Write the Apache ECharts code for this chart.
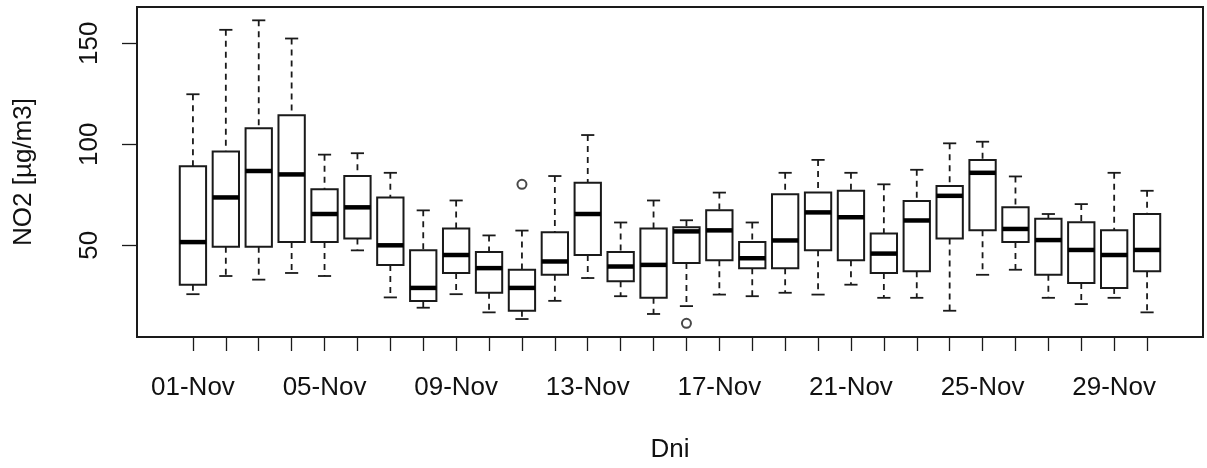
<!DOCTYPE html>
<html>
<head>
<meta charset="utf-8">
<script src="https://cdn.jsdelivr.net/npm/echarts@6.0.0/dist/echarts.min.js"></script>
<style>
  html,body{margin:0;padding:0;background:#fff;}
  #chart{width:1207px;height:468px;}
</style>
</head>
<body>
<div id="chart"></div>
<script>
// daily NO2 box stats
var days = ["01-Nov","02-Nov","03-Nov","04-Nov","05-Nov","06-Nov","07-Nov","08-Nov","09-Nov","10-Nov",
  "11-Nov","12-Nov","13-Nov","14-Nov","15-Nov","16-Nov","17-Nov","18-Nov","19-Nov","20-Nov",
  "21-Nov","22-Nov","23-Nov","24-Nov","25-Nov","26-Nov","27-Nov","28-Nov","29-Nov","30-Nov"];
var whiskerHigh = [124.8,156.7,161.4,152.4,94.9,95.6,85.9,67.3,72.2,54.9,57.3,84.3,104.6,61.3,72.2,62.4,76.1,61.3,85.9,92.3,85.9,80.2,87.4,100.5,101.3,84.1,65.5,70.4,85.9,77.0];
var q3 = [89.2,96.4,108.0,114.4,77.7,84.3,73.7,47.5,58.3,46.7,37.9,56.5,81.0,46.7,58.3,59.0,67.3,51.6,75.3,76.1,77.0,55.9,72.0,79.4,92.3,68.8,63.2,61.4,57.4,65.5];
var median = [51.6,73.7,86.8,85.1,65.5,68.8,50.0,28.9,45.2,38.7,28.9,42.0,65.5,39.5,40.3,56.9,57.4,43.6,52.4,66.3,63.9,45.9,62.3,74.5,85.9,58.1,52.6,47.7,45.2,47.7];
var q1 = [30.5,49.3,49.3,51.6,51.6,53.4,40.3,22.4,36.3,26.5,17.6,35.4,45.2,32.2,24.0,41.2,42.6,38.7,38.7,47.5,42.6,36.3,37.1,53.4,57.4,51.6,35.4,31.4,28.9,37.1];
var whiskerLow = [25.8,34.8,33.0,36.3,34.8,47.5,24.2,19.1,25.8,16.8,13.5,22.5,33.8,24.8,16.0,19.9,25.6,24.8,26.5,25.6,30.5,24.0,24.0,17.6,35.4,37.9,24.0,20.9,24.0,16.8];
var outliers = [[11,80.2],[16,11.4]];   // [day number, value]
var yTicks = [50,100,150];
var xLabelDays = [1,5,9,13,17,21,25,29];

var INK = "#1a1a1a";
var FONT = "'Liberation Sans', Arial, sans-serif";

var xTicks = days.map(function(d,i){ return i+1; });
var boxData = days.map(function(d,i){
  return [i+1, whiskerLow[i], q1[i], median[i], q3[i], whiskerHigh[i]];
});

function renderBox(params, api){
  var x = api.value(0);
  var lo = api.coord([x, api.value(1)]);
  var b1 = api.coord([x, api.value(2)]);
  var md = api.coord([x, api.value(3)]);
  var b3 = api.coord([x, api.value(4)]);
  var hi = api.coord([x, api.value(5)]);
  var w = api.size([0.8, 0])[0];
  var cx = lo[0], cap = w/4;
  var dash = {stroke:INK, lineWidth:1.8, lineDash:[6,5]};
  var solid = {stroke:INK, lineWidth:1.8};
  return {type:"group", children:[
    {type:"line", shape:{x1:cx,y1:hi[1],x2:cx,y2:b3[1]}, style:dash},
    {type:"line", shape:{x1:cx,y1:b1[1],x2:cx,y2:lo[1]}, style:dash},
    {type:"line", shape:{x1:cx-cap,y1:hi[1],x2:cx+cap,y2:hi[1]}, style:solid},
    {type:"line", shape:{x1:cx-cap,y1:lo[1],x2:cx+cap,y2:lo[1]}, style:solid},
    {type:"rect", shape:{x:cx-w/2,y:b3[1],width:w,height:b1[1]-b3[1]}, style:{fill:"#fff",stroke:INK,lineWidth:2}},
    {type:"line", shape:{x1:cx-w/2,y1:md[1],x2:cx+w/2,y2:md[1]}, style:{stroke:"#000",lineWidth:4.5}}
  ]};
}

var ch = echarts.init(document.getElementById("chart"), null, {renderer:"canvas"});
ch.setOption({
  animation:false,
  backgroundColor:"#fff",
  grid:{ left:137, top:7, width:1066, height:333, show:true, borderColor:INK, borderWidth:2, backgroundColor:"transparent" },
  xAxis:{
    type:"value", min:-0.7, max:31.7,
    axisLine:{show:false, onZero:false},
    splitLine:{show:false},
    axisTick:{show:true, inside:false, length:14, customValues:xTicks, lineStyle:{color:INK, width:1.3}},
    axisLabel:{customValues:xLabelDays, margin:38, color:"#111", fontSize:26, fontFamily:FONT,
      formatter:function(v){ return days[Math.round(v)-1] || ""; }},
    name:"Dni", nameLocation:"middle", nameGap:100,
    nameTextStyle:{color:"#111", fontSize:26, fontFamily:FONT}
  },
  yAxis:{
    type:"value", min:4.6, max:168,
    axisLine:{show:false, onZero:false},
    splitLine:{show:false},
    axisTick:{show:true, inside:false, length:15, customValues:yTicks, lineStyle:{color:INK, width:1.3}},
    axisLabel:{customValues:yTicks, rotate:90, margin:34, color:"#111", fontSize:26, fontFamily:FONT},
    name:"NO2 [µg/m3]", nameLocation:"middle", nameGap:100, nameRotate:90,
    nameTextStyle:{color:"#111", fontSize:26, fontFamily:FONT}
  },
  series:[
    { type:"custom", name:"NO2", renderItem:renderBox, data:boxData,
      encode:{x:0, y:[1,2,3,4,5]}, silent:true },
    { type:"scatter", name:"outliers", data:outliers, symbol:"circle", symbolSize:9,
      itemStyle:{color:"#fff", borderColor:INK, borderWidth:2}, silent:true }
  ]
});
</script>
</body>
</html>
